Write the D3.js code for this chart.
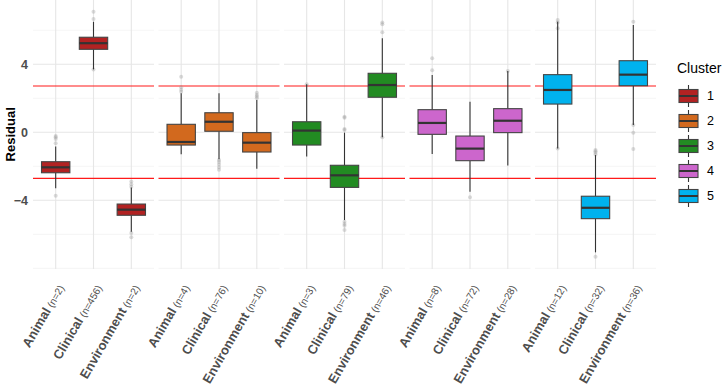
<!DOCTYPE html>
<html>
<head>
<meta charset="utf-8">
<script src="https://cdn.jsdelivr.net/npm/d3@7"></script>
<style>
  body { margin: 0; background: #fff; }
  svg { font-family: "Liberation Sans", Arial, sans-serif; }
</style>
</head>
<body>
<div id="chart"></div>
<script>
/* DATA */
const clusters = ["1", "2", "3", "4", "5"];
const sources = ["Animal", "Clinical", "Environment"];
const clusterColors = ["#B22222", "#D2691E", "#228B22", "#CC66CC", "#00B2EE"];
const nCounts = [[2, 456, 2], [4, 76, 10], [3, 79, 46], [8, 72, 28], [12, 32, 36]];
// box stats per cluster: [Animal, Clinical, Environment]
const lowerWhisker = [[-3.29, 3.7, -5.85], [-1.29, -1.59, -2.14], [-1.43, -5.16, -0.29], [-1.28, -3.49, -1.96], [-0.96, -7.06, 0.43]];
const q1 = [[-2.38, 4.88, -4.88], [-0.75, 0.06, -1.16], [-0.75, -3.24, 2.06], [-0.12, -1.67, -0.02], [1.66, -5.08, 2.74]];
const medians = [[-2.06, 5.24, -4.55], [-0.57, 0.62, -0.61], [0.1, -2.53, 2.78], [0.55, -0.96, 0.68], [2.49, -4.44, 3.39]];
const q3 = [[-1.73, 5.59, -4.22], [0.47, 1.15, -0.02], [0.62, -1.94, 3.47], [1.33, -0.22, 1.39], [3.39, -3.76, 4.21]];
const upperWhisker = [[-0.84, 6.5, -3.24], [2.29, 2.29, 1.9], [2.82, -0.02, 5.53], [3.37, 1.8, 3.61], [6.5, -1.34, 6.31]];
const outliers = [
  [[-0.22, -0.29, -0.4, -0.65, -3.73], [7.09, 6.67, 3.7], [-2.9, -3.05, -3.2, -5.93, -6.17]],
  [[3.27, 2.65, 2.5, 2.39], [-1.63, -1.75, -1.9, -2.05, -2.2], [2.33, 2.2, 2.1, 2.0]],
  [[2.82], [0.14, 0.2, 0.85, 0.92, -5.26, -5.4, -5.5, -5.75], [6.45, 6.35, 5.88, -0.29]],
  [[4.35, 3.65], [-3.82], [3.61]],
  [[6.6, 6.45, 6.12, -0.96], [-1.04, -1.12, -1.2, -1.3, -7.32], [6.5, 0.43, -0.02, -0.98]]
];
const yTicks = [-4, 0, 4];
const yMinor = [-8, -6, -2, 2, 6];
const redLines = [2.72, -2.71];

/* LAYOUT */
const width = 725, height = 385;
const panelLeft = 33, panelRight = 656, panelGap = 4.5;
const panelW = (panelRight - panelLeft - panelGap * 4) / 5;

const svg = d3.select("#chart").append("svg")
  .attr("width", width)
  .attr("height", height);

const y = d3.scaleLinear().domain([-8.04, 7.81]).range([269, -0.5]);
const xPanel = d3.scaleBand().domain(clusters)
  .range([panelLeft, panelRight + panelGap]).paddingInner(0);
// ggplot style discrete: 0.6 units expansion each side
const xInner = d3.scalePoint().domain(sources).range([0, panelW]).padding(0.6);
const unit = xInner.step();
const boxW = unit * 0.75;

clusters.forEach((cl, ci) => {
  const x0 = xPanel(cl);
  const g = svg.append("g").attr("transform", `translate(${x0},0)`);

  // grid
  g.selectAll(".minor").data(yMinor).join("line")
    .attr("x1", 0).attr("x2", panelW)
    .attr("y1", d => y(d)).attr("y2", d => y(d))
    .attr("stroke", "#EFEFEF").attr("stroke-width", 0.6);
  g.selectAll(".major").data(yTicks).join("line")
    .attr("x1", 0).attr("x2", panelW)
    .attr("y1", d => y(d)).attr("y2", d => y(d))
    .attr("stroke", "#E6E6E6").attr("stroke-width", 1.1);
  g.selectAll(".vgrid").data(sources).join("line")
    .attr("x1", d => xInner(d)).attr("x2", d => xInner(d))
    .attr("y1", y(-8.04)).attr("y2", y(7.81))
    .attr("stroke", "#E6E6E6").attr("stroke-width", 1.1);

  // threshold lines
  g.selectAll(".red").data(redLines).join("line")
    .attr("x1", 0).attr("x2", panelW)
    .attr("y1", d => y(d)).attr("y2", d => y(d))
    .attr("stroke", "#FF1A1A").attr("stroke-width", 1.1);

  sources.forEach((src, si) => {
    const cx = xInner(src);
    // outliers
    g.selectAll(null).data(outliers[ci][si]).join("circle")
      .attr("cx", cx).attr("cy", d => y(d)).attr("r", 2)
      .attr("fill", "#999").attr("fill-opacity", 0.35);
    // whiskers
    g.append("line")
      .attr("x1", cx).attr("x2", cx)
      .attr("y1", y(upperWhisker[ci][si])).attr("y2", y(q3[ci][si]))
      .attr("stroke", "#333").attr("stroke-width", 1.1);
    g.append("line")
      .attr("x1", cx).attr("x2", cx)
      .attr("y1", y(q1[ci][si])).attr("y2", y(lowerWhisker[ci][si]))
      .attr("stroke", "#333").attr("stroke-width", 1.1);
    // box
    g.append("rect")
      .attr("x", cx - boxW / 2).attr("width", boxW)
      .attr("y", y(q3[ci][si])).attr("height", y(q1[ci][si]) - y(q3[ci][si]))
      .attr("fill", clusterColors[ci])
      .attr("stroke", "#444").attr("stroke-width", 1.1);
    g.append("line")
      .attr("x1", cx - boxW / 2).attr("x2", cx + boxW / 2)
      .attr("y1", y(medians[ci][si])).attr("y2", y(medians[ci][si]))
      .attr("stroke", "#333").attr("stroke-width", 2.2);

    // x label
    const lab = g.append("text")
      .attr("transform", `translate(${cx + 4},${285}) rotate(-60)`)
      .attr("text-anchor", "end")
      .attr("dy", "0.35em")
      .attr("fill", "#4D4D4D")
      .attr("font-weight", "bold");
    lab.append("tspan").attr("font-size", 13).text(src);
    lab.append("tspan").attr("font-size", 10).attr("font-weight", "normal")
      .attr("dx", 3).text(`(n=${nCounts[ci][si]})`);
  });
});

// y axis labels
svg.selectAll(".ytick").data(yTicks).join("text")
  .attr("x", 28).attr("y", d => y(d)).attr("dy", "0.35em")
  .attr("text-anchor", "end")
  .attr("fill", "#4D4D4D").attr("font-weight", "bold").attr("font-size", 12.5)
  .text(d => d < 0 ? "\u2212" + Math.abs(d) : d);

svg.append("text")
  .attr("transform", `translate(10,${y(0) + 2}) rotate(-90)`)
  .attr("text-anchor", "middle").attr("dy", "0.35em")
  .attr("font-weight", "bold").attr("font-size", 13).attr("fill", "#000")
  .text("Residual");

// legend
const legend = svg.append("g").attr("transform", "translate(677,0)");
legend.append("text").attr("x", 0).attr("y", 73)
  .attr("font-size", 14).attr("fill", "#000").text("Cluster");
clusters.forEach((cl, i) => {
  const cy = 96 + i * 25;
  const k = legend.append("g").attr("transform", `translate(2,${cy})`);
  k.append("line").attr("x1", 9.5).attr("x2", 9.5).attr("y1", -11).attr("y2", 11)
    .attr("stroke", "#333").attr("stroke-width", 1.1);
  k.append("rect").attr("x", 0).attr("y", -6.5).attr("width", 19).attr("height", 13)
    .attr("fill", clusterColors[i]).attr("stroke", "#444").attr("stroke-width", 1.1);
  k.append("line").attr("x1", 0).attr("x2", 19).attr("y1", 0).attr("y2", 0)
    .attr("stroke", "#333").attr("stroke-width", 2);
  legend.append("text").attr("x", 30).attr("y", cy).attr("dy", "0.35em")
    .attr("font-size", 12.5).attr("fill", "#000").text(cl);
});
</script>
</body>
</html>
